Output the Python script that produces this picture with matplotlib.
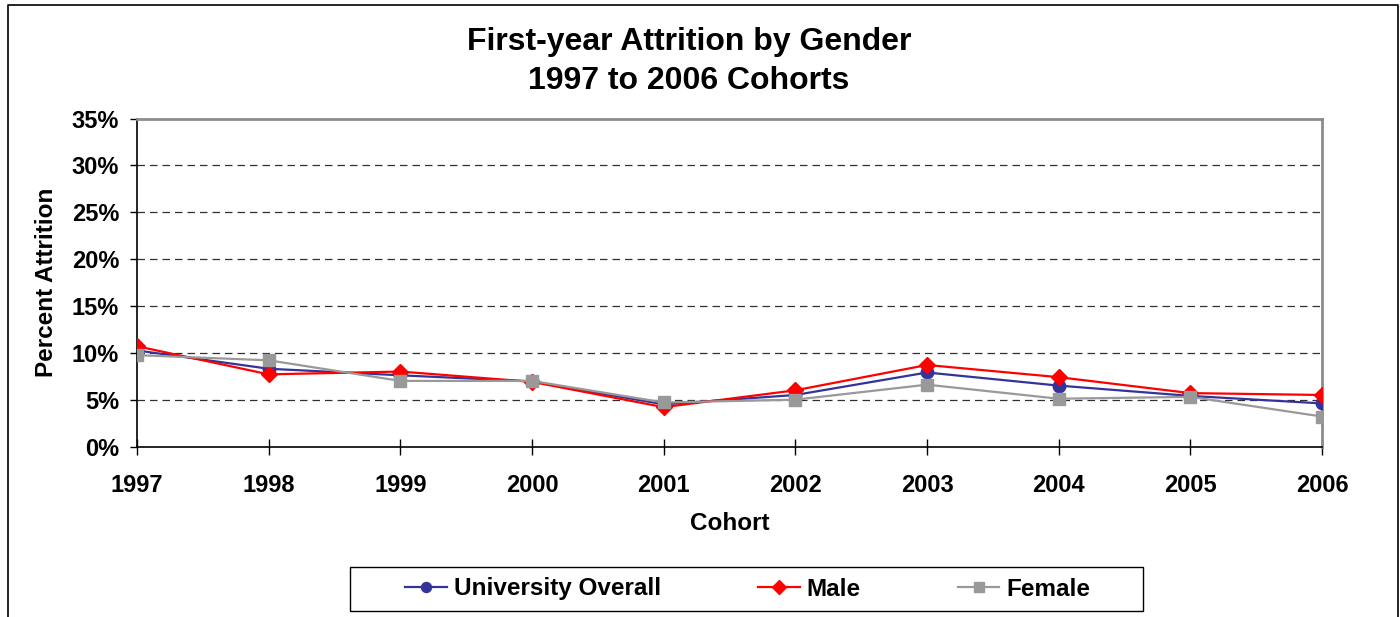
import matplotlib
matplotlib.use("Agg")
import matplotlib.pyplot as plt
from matplotlib.patches import Rectangle
from matplotlib.lines import Line2D

plt.rcParams['font.family'] = ['Liberation Sans', 'DejaVu Sans']
plt.rcParams['font.weight'] = 'bold'

cohorts = ['1997', '1998', '1999', '2000', '2001', '2002', '2003', '2004', '2005', '2006']
overall = [10.25, 8.3, 7.6, 6.95, 4.5, 5.5, 7.9, 6.5, 5.4, 4.6]
male = [10.7, 7.7, 8.0, 6.9, 4.2, 6.0, 8.7, 7.4, 5.7, 5.5]
female = [9.75, 9.2, 7.0, 7.0, 4.7, 5.0, 6.6, 5.1, 5.3, 3.2]
yticks = [0, 5, 10, 15, 20, 25, 30, 35]


def plot_attrition():
    fig = plt.figure(figsize=(14, 6.17), dpi=100)
    ax = fig.add_axes([0.0979, 0.2763, 0.8464, 0.5316])

    x = list(range(len(cohorts)))
    ax.plot(x, overall, color='#333399', marker='o', markersize=9, linewidth=1.6,
            label='University Overall', zorder=3)
    ax.plot(x, male, color='#FF0000', marker='D', markersize=8.5, linewidth=1.6,
            label='Male', zorder=4)
    ax.plot(x, female, color='#999999', marker='s', markersize=9, linewidth=1.6,
            label='Female', zorder=5)

    ax.set_xlim(0, len(cohorts) - 1)
    ax.set_ylim(0, 35)
    ax.set_xticks(x)
    ax.set_xticklabels(cohorts)
    ax.set_yticks(yticks)
    ax.set_yticklabels([f'{v}%' for v in yticks])
    ax.tick_params(axis='x', direction='inout', length=11.5, width=1, pad=14,
                   labelsize=17)
    ax.tick_params(axis='y', direction='out', length=5, width=1, pad=8,
                   labelsize=17)

    for v in yticks[1:-1]:
        ax.axhline(v, color='#303030', linewidth=0.9, linestyle=(0, (6, 4)), zorder=1)

    for side in ['top', 'right']:
        ax.spines[side].set_color('#8c8c8c')
        ax.spines[side].set_linewidth(2)
    for side in ['left', 'bottom']:
        ax.spines[side].set_color('black')
        ax.spines[side].set_linewidth(1.2)

    ax.set_xlabel('Cohort', fontsize=17.5, fontweight='bold', labelpad=11)
    ax.set_ylabel('Percent Attrition', fontsize=17.5, fontweight='bold', labelpad=10)

    fig.text(0.492, 0.932, 'First-year Attrition by Gender', ha='center', va='center',
             fontsize=23, fontweight='bold')
    fig.text(0.492, 0.869, '1997 to 2006 Cohorts', ha='center', va='center',
             fontsize=23, fontweight='bold')

    # legend box
    fig.patches.append(Rectangle((350 / 1400, 1 - 611 / 617), 793 / 1400, 44 / 617,
                                 transform=fig.transFigure, fill=False,
                                 edgecolor='black', linewidth=1))
    fig.legend(loc='center', bbox_to_anchor=(748 / 1400, 1 - 589 / 617), ncol=3,
               frameon=False, fontsize=17.5, handlelength=1.7, handletextpad=0.3,
               columnspacing=4.0, markerscale=0.8)

    # outer chart border
    fig.lines.append(Line2D([8 / 1400, 8 / 1400, 1398 / 1400, 1398 / 1400],
                            [0, 1 - 5 / 617, 1 - 5 / 617, 0],
                            transform=fig.transFigure, color='black', linewidth=1.2))

    fig.savefig('out.png', dpi=100)


if __name__ == "__main__":
    plot_attrition()
